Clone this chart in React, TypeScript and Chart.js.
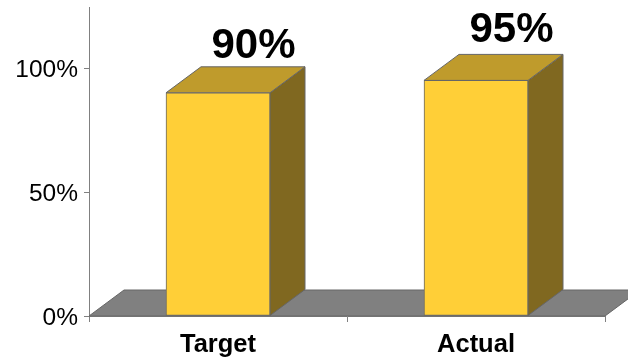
import React, { useEffect, useRef } from "react";
import { Chart, registerables } from "chart.js";

Chart.register(...registerables);

const categories = ["Target", "Actual"];
const percentValues = [90, 95];
const axisTicks = [0, 50, 100];

const FONT = '"Liberation Sans", Arial, sans-serif';
const EDGE = "#666666";
const FRONT = "#FFCF37";
const TOP_FACE = "#BF9B2C";
const SIDE_FACE = "#806820";
const FLOOR = "#808080";
const DEPTH_X = 35;
const DEPTH_Y = 26;

function polygon(ctx: CanvasRenderingContext2D, pts: number[][], fill: string, stroke: string | null) {
  ctx.beginPath();
  pts.forEach(([x, y], i) => (i ? ctx.lineTo(x, y) : ctx.moveTo(x, y)));
  ctx.closePath();
  ctx.fillStyle = fill;
  ctx.fill();
  if (stroke) {
    ctx.strokeStyle = stroke;
    ctx.lineWidth = 1;
    ctx.stroke();
  }
}

// Nudges the value-axis labels so the digits sit centred on their tick marks.
const centreTickDigits = {
  id: "centreTickDigits",
  afterLayout(chart: any) {
    chart.scales.y.getLabelItems().forEach((item: any) => {
      item.options.translation = [item.options.translation[0], item.options.translation[1] + 2];
    });
  },
};

// Oblique floor plus the top and side faces of each column.
const extrusion = {
  id: "extrusion",
  beforeDatasetsDraw(chart: any) {
    const { ctx, chartArea: a } = chart;
    const b = a.bottom;
    ctx.save();
    polygon(ctx, [[a.left, b], [a.left + DEPTH_X, b - DEPTH_Y], [a.right + DEPTH_X, b - DEPTH_Y], [a.right, b]], FLOOR, EDGE);
    chart.getDatasetMeta(0).data.forEach((bar: any) => {
      const l = bar.x - bar.width / 2;
      const r = bar.x + bar.width / 2;
      polygon(ctx, [[r, bar.y], [r + DEPTH_X, bar.y - DEPTH_Y], [r + DEPTH_X, bar.base - DEPTH_Y], [r, bar.base]], SIDE_FACE, EDGE);
      polygon(ctx, [[l, bar.y], [l + DEPTH_X, bar.y - DEPTH_Y], [r + DEPTH_X, bar.y - DEPTH_Y], [r, bar.y]], TOP_FACE, EDGE);
    });
    ctx.restore();
  },
};

// Big percentage captions floating above each column.
const valueCaptions = {
  id: "valueCaptions",
  afterDatasetsDraw(chart: any) {
    const { ctx } = chart;
    const lift = [9, 12];
    ctx.save();
    ctx.font = `bold 42px ${FONT}`;
    ctx.fillStyle = "#000000";
    ctx.textAlign = "center";
    ctx.textBaseline = "alphabetic";
    chart.getDatasetMeta(0).data.forEach((bar: any, i: number) => {
      ctx.fillText(`${percentValues[i]}%`, bar.x + DEPTH_X + 0.5, bar.y - DEPTH_Y - lift[i]);
    });
    ctx.restore();
  },
};

export default function App() {
  const ref = useRef<HTMLCanvasElement>(null);

  useEffect(() => {
    document.body.style.margin = "0";
    const chart = new Chart(ref.current!, {
      type: "bar",
      data: {
        labels: categories,
        datasets: [
          {
            data: percentValues,
            backgroundColor: FRONT,
            borderColor: EDGE,
            borderWidth: 1,
            borderSkipped: false,
            barThickness: 104,
          },
        ],
      },
      options: {
        animation: false,
        responsive: false,
        layout: { padding: { top: 7, right: 23, left: 0, bottom: 0 } },
        plugins: { legend: { display: false }, tooltip: { enabled: false } },
        scales: {
          x: {
            border: { color: "#808080", width: 1 },
            grid: { drawOnChartArea: false, color: "#808080", tickLength: 6 },
            ticks: {
              color: "#000000",
              font: { family: FONT, size: 25.5, weight: "bold" },
              padding: 8,
              maxRotation: 0,
            },
            afterFit: (s: any) => {
              s.height = 43;
              s.paddingLeft = 0;
              s.paddingRight = 0;
            },
          },
          y: {
            min: 0,
            max: 124.6,
            border: { color: "#808080", width: 1 },
            grid: { drawOnChartArea: false, color: "#808080", tickLength: 5 },
            afterBuildTicks: (s: any) => {
              s.ticks = axisTicks.map((value) => ({ value }));
            },
            ticks: {
              color: "#000000",
              font: { family: FONT, size: 24.5 },
              padding: 6,
              callback: (v: any) => `${v}%`,
            },
            afterFit: (s: any) => {
              s.width = 89;
              s.paddingTop = 0;
              s.paddingBottom = 0;
            },
          },
        },
      },
      plugins: [centreTickDigits, extrusion, valueCaptions],
    } as any);
    return () => chart.destroy();
  }, []);

  return <canvas ref={ref} width={628} height={359} style={{ display: "block" }} />;
}
